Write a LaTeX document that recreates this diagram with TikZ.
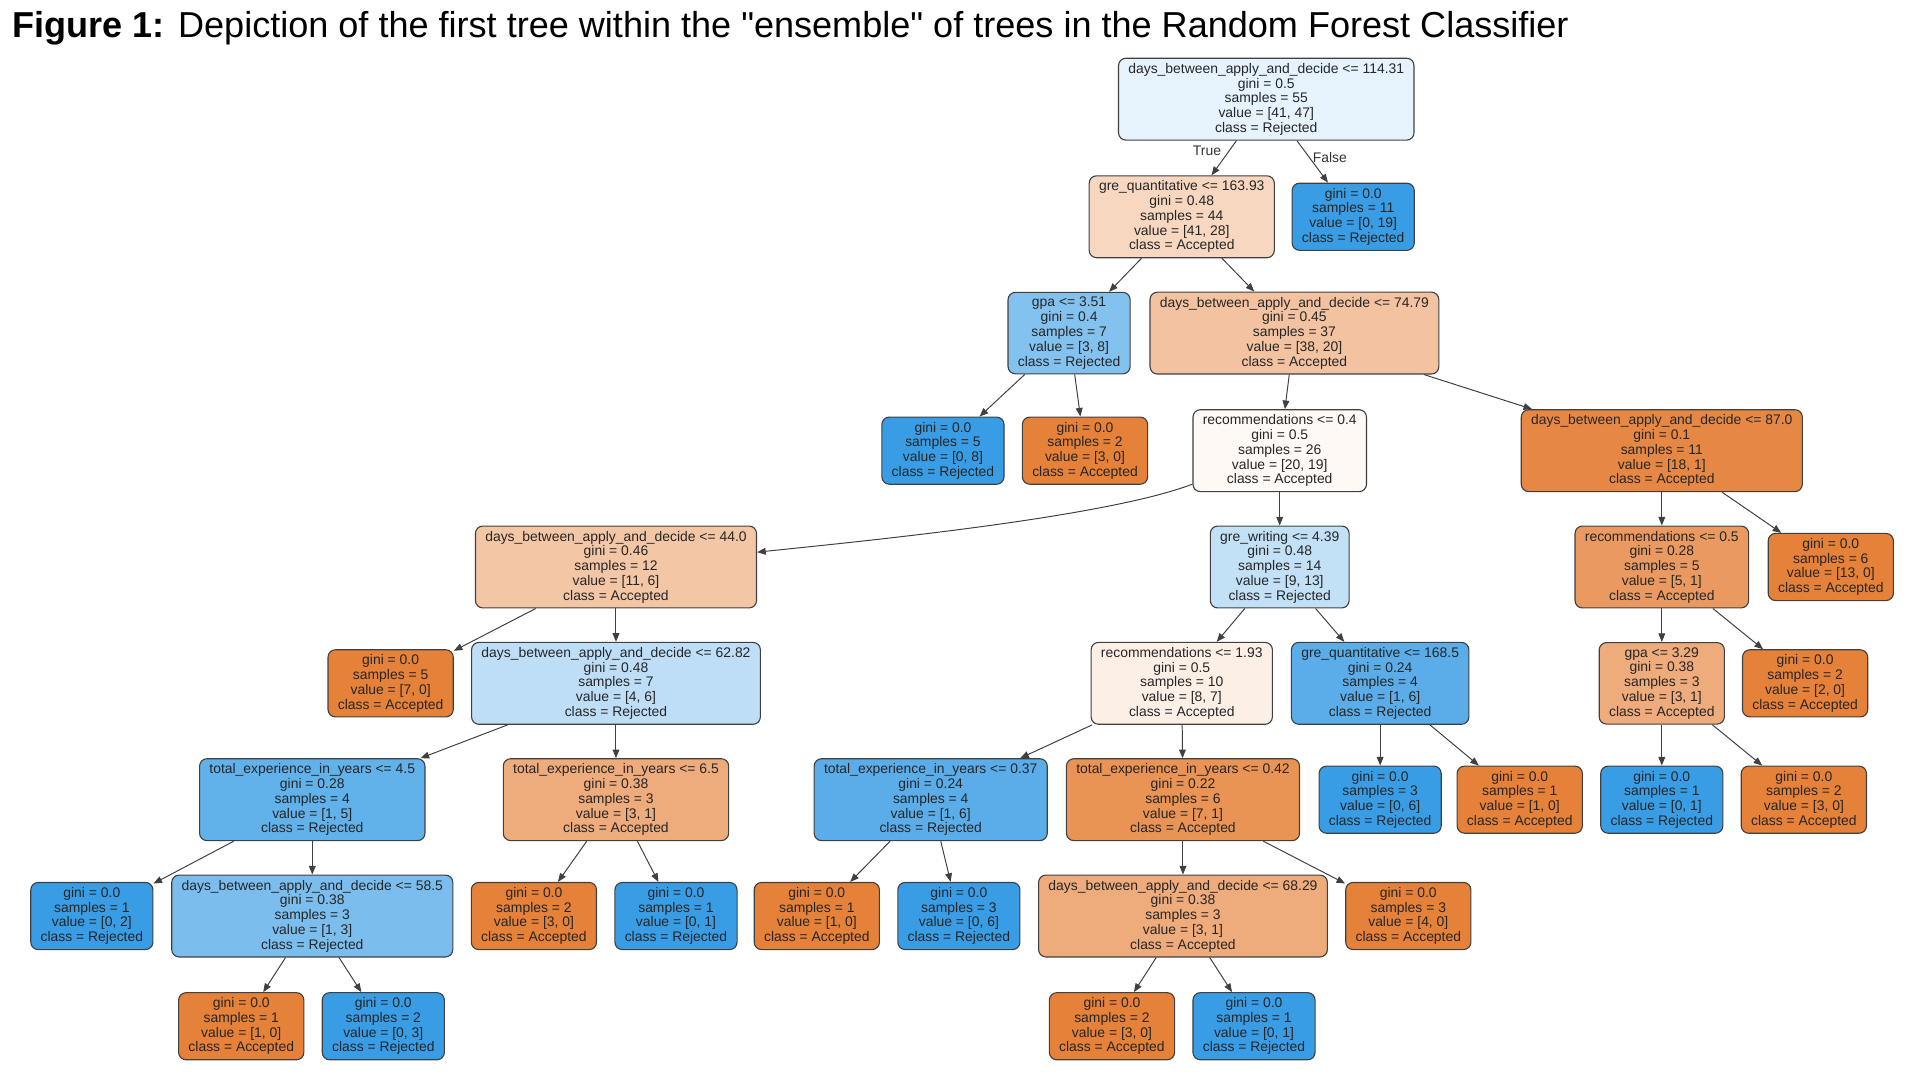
\documentclass[tikz,border=0pt]{standalone}
\usepackage{fontspec}
\setmainfont{Liberation Sans}
\usetikzlibrary{arrows.meta}

\definecolor{orng}{RGB}{229,129,57}
\definecolor{blu}{RGB}{57,157,229}
\definecolor{b13}{RGB}{230,242,252}
\definecolor{b31}{RGB}{194,225,247}
\definecolor{b33}{RGB}{189,222,246}
\definecolor{b63}{RGB}{131,194,239}
\definecolor{b67}{RGB}{123,190,238}
\definecolor{b80}{RGB}{97,177,234}
\definecolor{b83}{RGB}{90,173,233}
\definecolor{o05}{RGB}{254,249,245}
\definecolor{o13}{RGB}{252,239,230}
\definecolor{o32}{RGB}{247,215,192}
\definecolor{o45}{RGB}{243,198,165}
\definecolor{o47}{RGB}{243,195,161}
\definecolor{o67}{RGB}{238,171,123}
\definecolor{o80}{RGB}{234,154,97}
\definecolor{o86}{RGB}{233,147,85}
\definecolor{o94}{RGB}{230,136,68}

\begin{document}
\begin{tikzpicture}[x=0.995pt,y=-0.995pt]
\tikzset{box/.style={draw=black!75, line width=0.9pt, rounded corners=6pt, align=center,
  inner xsep=8pt, inner ysep=4pt, text=black!85, font=\fontsize{11.3}{12}\selectfont},
  lbl/.style={inner sep=1.5pt, text=black!80, font=\fontsize{11.3}{12}\selectfont},
  >={Triangle[length=7pt,width=5.5pt]}}
\useasboundingbox (0pt,0pt) rectangle (1560pt,-877.5pt);

\node[anchor=base west, inner sep=0pt, font=\fontsize{29.3}{32}\selectfont] (title) at (10,31)
  {\textbf{Figure 1:} Depiction of the first tree within the \textquotedbl ensemble\textquotedbl{} of trees in the Random Forest Classifier};

% level 0-2
\node[box, fill=b13] (n0) at (1034,81) {days\_between\_apply\_and\_decide <= 114.31\\gini = 0.5\\samples = 55\\value = [41, 47]\\class = Rejected};
\node[box, fill=o32] (n1) at (965,177) {gre\_quantitative <= 163.93\\gini = 0.48\\samples = 44\\value = [41, 28]\\class = Accepted};
\node[box, fill=blu] (n2) at (1105,177) {gini = 0.0\\samples = 11\\value = [0, 19]\\class = Rejected};
\node[box, fill=b63] (n3) at (873,272) {gpa <= 3.51\\gini = 0.4\\samples = 7\\value = [3, 8]\\class = Rejected};
\node[box, fill=o47] (n4) at (1057,272) {days\_between\_apply\_and\_decide <= 74.79\\gini = 0.45\\samples = 37\\value = [38, 20]\\class = Accepted};

% level 3
\node[box, fill=blu] (n5) at (770,368) {gini = 0.0\\samples = 5\\value = [0, 8]\\class = Rejected};
\node[box, fill=orng] (n6) at (886,368) {gini = 0.0\\samples = 2\\value = [3, 0]\\class = Accepted};
\node[box, fill=o05] (n7) at (1045,368) {recommendations <= 0.4\\gini = 0.5\\samples = 26\\value = [20, 19]\\class = Accepted};
\node[box, fill=o94] (n8) at (1357,368) {days\_between\_apply\_and\_decide <= 87.0\\gini = 0.1\\samples = 11\\value = [18, 1]\\class = Accepted};

% level 4
\node[box, fill=o45] (n9) at (503,463) {days\_between\_apply\_and\_decide <= 44.0\\gini = 0.46\\samples = 12\\value = [11, 6]\\class = Accepted};
\node[box, fill=b31] (n10) at (1045,463) {gre\_writing <= 4.39\\gini = 0.48\\samples = 14\\value = [9, 13]\\class = Rejected};
\node[box, fill=o80] (n11) at (1357,463) {recommendations <= 0.5\\gini = 0.28\\samples = 5\\value = [5, 1]\\class = Accepted};
\node[box, fill=orng] (n12) at (1495,463) {gini = 0.0\\samples = 6\\value = [13, 0]\\class = Accepted};

% level 5
\node[box, fill=orng] (n13) at (319,558) {gini = 0.0\\samples = 5\\value = [7, 0]\\class = Accepted};
\node[box, fill=b33] (n14) at (503,558) {days\_between\_apply\_and\_decide <= 62.82\\gini = 0.48\\samples = 7\\value = [4, 6]\\class = Rejected};
\node[box, fill=o13] (n15) at (965,558) {recommendations <= 1.93\\gini = 0.5\\samples = 10\\value = [8, 7]\\class = Accepted};
\node[box, fill=b83] (n16) at (1127,558) {gre\_quantitative <= 168.5\\gini = 0.24\\samples = 4\\value = [1, 6]\\class = Rejected};
\node[box, fill=o67] (n17) at (1357,558) {gpa <= 3.29\\gini = 0.38\\samples = 3\\value = [3, 1]\\class = Accepted};
\node[box, fill=orng] (n18) at (1474,558) {gini = 0.0\\samples = 2\\value = [2, 0]\\class = Accepted};

% level 6
\node[box, fill=b80] (n19) at (255,653) {total\_experience\_in\_years <= 4.5\\gini = 0.28\\samples = 4\\value = [1, 5]\\class = Rejected};
\node[box, fill=o67] (n20) at (503,653) {total\_experience\_in\_years <= 6.5\\gini = 0.38\\samples = 3\\value = [3, 1]\\class = Accepted};
\node[box, fill=b83] (n21) at (760,653) {total\_experience\_in\_years <= 0.37\\gini = 0.24\\samples = 4\\value = [1, 6]\\class = Rejected};
\node[box, fill=o86] (n22) at (966,653) {total\_experience\_in\_years <= 0.42\\gini = 0.22\\samples = 6\\value = [7, 1]\\class = Accepted};
\node[box, fill=blu] (n23) at (1127,653) {gini = 0.0\\samples = 3\\value = [0, 6]\\class = Rejected};
\node[box, fill=orng] (n24) at (1241,653) {gini = 0.0\\samples = 1\\value = [1, 0]\\class = Accepted};
\node[box, fill=blu] (n25) at (1357,653) {gini = 0.0\\samples = 1\\value = [0, 1]\\class = Rejected};
\node[box, fill=orng] (n26) at (1473,653) {gini = 0.0\\samples = 2\\value = [3, 0]\\class = Accepted};

% level 7
\node[box, fill=blu] (n27) at (75,748) {gini = 0.0\\samples = 1\\value = [0, 2]\\class = Rejected};
\node[box, fill=b67] (n28) at (255,748) {days\_between\_apply\_and\_decide <= 58.5\\gini = 0.38\\samples = 3\\value = [1, 3]\\class = Rejected};
\node[box, fill=orng] (n29) at (436,748) {gini = 0.0\\samples = 2\\value = [3, 0]\\class = Accepted};
\node[box, fill=blu] (n30) at (552,748) {gini = 0.0\\samples = 1\\value = [0, 1]\\class = Rejected};
\node[box, fill=orng] (n31) at (667,748) {gini = 0.0\\samples = 1\\value = [1, 0]\\class = Accepted};
\node[box, fill=blu] (n32) at (783,748) {gini = 0.0\\samples = 3\\value = [0, 6]\\class = Rejected};
\node[box, fill=o67] (n33) at (966,748) {days\_between\_apply\_and\_decide <= 68.29\\gini = 0.38\\samples = 3\\value = [3, 1]\\class = Accepted};
\node[box, fill=orng] (n34) at (1150,748) {gini = 0.0\\samples = 3\\value = [4, 0]\\class = Accepted};

% level 8
\node[box, fill=orng] (n35) at (197,838) {gini = 0.0\\samples = 1\\value = [1, 0]\\class = Accepted};
\node[box, fill=blu] (n36) at (313,838) {gini = 0.0\\samples = 2\\value = [0, 3]\\class = Rejected};
\node[box, fill=orng] (n37) at (908,838) {gini = 0.0\\samples = 2\\value = [3, 0]\\class = Accepted};
\node[box, fill=blu] (n38) at (1024,838) {gini = 0.0\\samples = 1\\value = [0, 1]\\class = Rejected};

% edges
\begin{scope}[draw=black!75, line width=0.8pt]
\draw[->] (n0) -- node[lbl, pos=.28, left=5pt] {True} (n1);
\draw[->] (n0) -- node[lbl, pos=.4, right=1pt] {False} (n2);
\draw[->] (n1) -- (n3);  \draw[->] (n1) -- (n4);
\draw[->] (n3) -- (n5);  \draw[->] (n3) -- (n6);
\draw[->] (n4) -- (n7);  \draw[->] (n4) -- (n8);
\draw[->] (n7) to[out=201, in=6, looseness=0.55] (n9);
\draw[->] (n7) -- (n10);
\draw[->] (n8) -- (n11); \draw[->] (n8) -- (n12);
\draw[->] (n9) -- (n13); \draw[->] (n9) -- (n14);
\draw[->] (n10) -- (n15); \draw[->] (n10) -- (n16);
\draw[->] (n11) -- (n17); \draw[->] (n11) -- (n18);
\draw[->] (n14) -- (n19); \draw[->] (n14) -- (n20);
\draw[->] (n15) -- (n21); \draw[->] (n15) -- (n22);
\draw[->] (n16) -- (n23); \draw[->] (n16) -- (n24);
\draw[->] (n17) -- (n25); \draw[->] (n17) -- (n26);
\draw[->] (n19) -- (n27); \draw[->] (n19) -- (n28);
\draw[->] (n20) -- (n29); \draw[->] (n20) -- (n30);
\draw[->] (n21) -- (n31); \draw[->] (n21) -- (n32);
\draw[->] (n22) -- (n33); \draw[->] (n22) -- (n34);
\draw[->] (n28) -- (n35); \draw[->] (n28) -- (n36);
\draw[->] (n33) -- (n37); \draw[->] (n33) -- (n38);
\end{scope}

\end{tikzpicture}
\end{document}
